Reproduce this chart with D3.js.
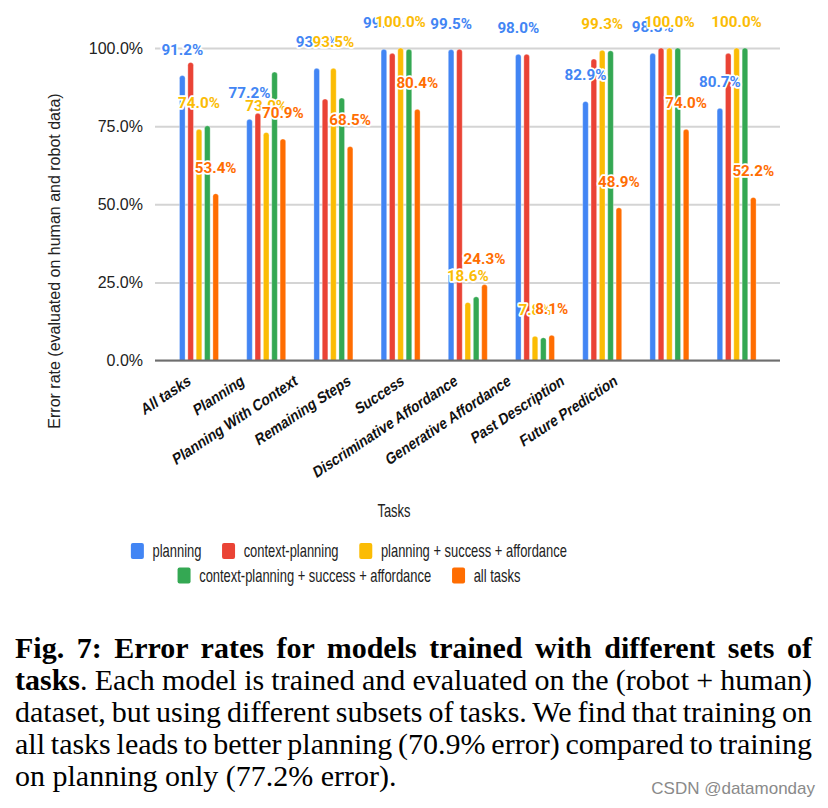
<!DOCTYPE html>
<html>
<head>
<meta charset="utf-8">
<script src="https://cdn.jsdelivr.net/npm/d3@7"></script>
<style>
  html, body { margin: 0; padding: 0; background: #fff; }
  svg { display: block; }
</style>
</head>
<body>
<script>
// ---------------- data ----------------
const categories = ["All tasks", "Planning", "Planning With Context", "Remaining Steps", "Success",
  "Discriminative Affordance", "Generative Affordance", "Past Description", "Future Prediction"];
const seriesNames = ["planning", "context-planning", "planning + success + affordance",
  "context-planning + success + affordance", "all tasks"];
const seriesColors = ["#4285F4", "#EA4335", "#FBBC04", "#34A853", "#FF6D01"];
const planning        = [91.2, 77.2, 93.5, 99.6, 99.5, 98.0, 82.9, 98.3, 80.7];
const contextPlanning = [95.4, 79.1, 83.7, 98.3, 99.6, 98.0, 96.5, 100.0, 98.3];
const planSuccAff     = [74.0, 73.0, 93.5, 100.0, 18.6, 7.8, 99.3, 100.0, 100.0];
const ctxSuccAff      = [75.1, 92.3, 84.0, 99.6, 20.4, 7.3, 99.1, 100.0, 100.0];
const allTasks        = [53.4, 70.9, 68.5, 80.4, 24.3, 8.1, 48.9, 74.0, 52.2];
const seriesValues = [planning, contextPlanning, planSuccAff, ctxSuccAff, allTasks];
const labeledSeries = [0, 2, 4];
const yTicks = [0, 25, 50, 75, 100];
const yTickLabels = ["0.0%", "25.0%", "50.0%", "75.0%", "100.0%"];
const yTitle = "Error rate (evaluated on human and robot data)";
const xTitle = "Tasks";
const captionLines = [
  [{t: "Fig. 7: Error rates for models trained with different sets of", b: true}],
  [{t: "tasks", b: true}, {t: ". Each model is trained and evaluated on the (robot + human)", b: false}],
  [{t: "dataset, but using different subsets of tasks. We find that training on", b: false}],
  [{t: "all tasks leads to better planning (70.9% error) compared to training", b: false}],
  [{t: "on planning only (77.2% error).", b: false}]
];
const watermark = "CSDN @datamonday";

// ---------------- layout ----------------
const W = 828, H = 808;
const svg = d3.select("body").append("svg").attr("width", W).attr("height", H);
svg.append("rect").attr("width", W).attr("height", H).attr("fill", "#fff");

const plotLeft = 155, plotRight = 780;
const y = d3.scaleLinear().domain([0, 100]).range([360.5, 48]);
const x = d3.scaleBand().domain(categories).range([165.4, 770.2]).padding(0);
const xs = d3.scalePoint().domain(d3.range(seriesNames.length)).range([-16.7, 16.7]);
const xLab = d3.scalePoint().domain(categories).range([191.7, 618.3]);
const barW = 5.6;
const sansFont = "'Liberation Sans', Arial, sans-serif";

// gridlines + y tick labels via axis
const yAxis = d3.axisLeft(y).tickValues(yTicks)
  .tickFormat((d, i) => yTickLabels[i])
  .tickSize(-(plotRight - plotLeft)).tickPadding(12);
const gy = svg.append("g").attr("transform", `translate(${plotLeft},0)`).call(yAxis);
gy.select(".domain").remove();
gy.selectAll(".tick line").attr("stroke", "#d4d4d4").attr("stroke-width", 2);
gy.selectAll(".tick text").attr("font-family", sansFont).attr("font-size", 16)
  .attr("fill", "#222");

// bars
const clip = svg.append("clipPath").attr("id", "plotclip");
clip.append("rect").attr("x", 0).attr("y", 0).attr("width", W).attr("height", y(0));
const barsG = svg.append("g").attr("clip-path", "url(#plotclip)");
seriesValues.forEach((vals, si) => {
  barsG.selectAll(null).data(vals).enter().append("rect")
    .attr("x", (d, i) => x(categories[i]) + x.bandwidth() / 2 + xs(si) - barW / 2)
    .attr("y", d => y(d))
    .attr("width", barW)
    .attr("height", d => y(0) - y(d) + 4)
    .attr("rx", barW / 2)
    .attr("fill", seriesColors[si])
    .attr("stroke", "#fff").attr("stroke-opacity", 0.5).attr("stroke-width", 0.6);
});

// baseline
svg.append("line").attr("x1", plotLeft).attr("x2", plotRight)
  .attr("y1", y(0)).attr("y2", y(0)).attr("stroke", "#6e6e6e").attr("stroke-width", 2.2);

// bar value labels
labeledSeries.forEach(si => {
  svg.append("g").selectAll("text").data(seriesValues[si]).enter().append("text")
    .attr("x", (d, i) => x(categories[i]) + x.bandwidth() / 2 + xs(si))
    .attr("y", d => y(d) - 21)
    .attr("text-anchor", "middle")
    .attr("font-family", "Roboto, sans-serif").attr("font-weight", 700).attr("font-size", 15.2)
    .attr("fill", seriesColors[si])
    .attr("stroke", "#fff").attr("stroke-width", 3.5).attr("stroke-linejoin", "round")
    .attr("paint-order", "stroke")
    .text(d => d.toFixed(1) + "%");
});

// x axis category labels (rotated)
svg.append("g").selectAll("text").data(categories).enter().append("text")
  .attr("transform", d => `translate(${xLab(d)},384) scale(0.8,1) rotate(-28)`)
  .attr("text-anchor", "end")
  .attr("font-family", sansFont).attr("font-weight", 700).attr("font-size", 16.3)
  .attr("fill", "#111")
  .text(d => d);

// axis titles
svg.append("text").attr("transform", "translate(394,517.3) scale(0.74,1)")
  .attr("text-anchor", "middle").attr("font-family", sansFont).attr("font-size", 17.5)
  .attr("fill", "#222").text(xTitle);
svg.append("text").attr("transform", "translate(60,261) rotate(-90)")
  .attr("text-anchor", "middle").attr("font-family", sansFont).attr("font-size", 16)
  .attr("fill", "#222").text(yTitle);

// legend
const legendRows = [[0, 1, 2], [3, 4]];
const rowCenters = [551, 575.5];
const legendCenterX = 349;
const sqW = 13, sqH = 16, txtGap = 8.6, itemGap = 20.6, hScale = 0.74;
legendRows.forEach((row, ri) => {
  const g = svg.append("g");
  const items = row.map(si => {
    const t = g.append("text").attr("font-family", sansFont).attr("font-size", 17.5)
      .attr("fill", "#222").text(seriesNames[si]);
    return {si, t, w: t.node().getComputedTextLength() * hScale};
  });
  const total = d3.sum(items, d => sqW + txtGap + d.w) + itemGap * (items.length - 1);
  let cx = legendCenterX - total / 2;
  const cy = rowCenters[ri];
  items.forEach(it => {
    g.append("rect").attr("x", cx).attr("y", cy - sqH / 2).attr("width", sqW).attr("height", sqH)
      .attr("rx", 2).attr("fill", seriesColors[it.si]);
    it.t.attr("transform", `translate(${cx + sqW + txtGap},${cy + 6.2}) scale(${hScale},1)`);
    cx += sqW + txtGap + it.w + itemGap;
  });
});

// caption (justified via word spacing)
const capX = 15, capRight = 812;
const capBaselines = [658, 690, 722, 754, 786];
captionLines.forEach((parts, li) => {
  const t = svg.append("text").attr("x", capX).attr("y", capBaselines[li])
    .attr("font-family", "'Liberation Serif', 'Times New Roman', serif").attr("font-size", 30)
    .attr("fill", "#000");
  parts.forEach(p => t.append("tspan").attr("font-weight", p.b ? 700 : 400).text(p.t));
  if (li < captionLines.length - 1) {
    const natural = t.node().getComputedTextLength();
    const nSpaces = parts.map(p => p.t).join("").split(" ").length - 1;
    const ws = (capRight - capX - natural) / nSpaces;
    t.attr("word-spacing", ws);
  }
});

// watermark
svg.append("text").attr("x", 815).attr("y", 794).attr("text-anchor", "end")
  .attr("font-family", sansFont).attr("font-size", 17).attr("fill", "#8a8a8a")
  .text(watermark);
</script>
</body>
</html>
